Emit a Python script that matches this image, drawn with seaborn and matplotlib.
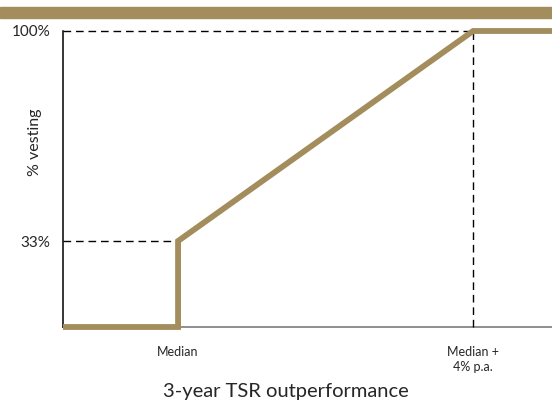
import numpy as np
import pandas as pd
import matplotlib
matplotlib.use("Agg")
import matplotlib.pyplot as plt
import seaborn as sns
from matplotlib.patches import Rectangle

# ---- data ----
perf_x = [-1.56, 0.0, 0.0, 4.0, 5.07]      # TSR outperformance (% p.a. above median)
vesting = [0, 0, 33, 100, 100]              # % vesting
tick_pos = [0, 4]
tick_labels = ["Median", "Median +\n4% p.a."]
ytick_pos = [33, 100]
ytick_labels = ["33%", "100%"]

GOLD = "#a38d5d"

sns.set_theme(style="white")
plt.rcParams["font.family"] = ["Lato", "DejaVu Sans"]

fig = plt.figure(figsize=(5.52, 4.03), dpi=100)
ax = fig.add_axes([63 / 552, 76 / 403, 1 - 63 / 552, 296 / 403])

# piecewise scale so 33% sits where it does in the schematic
def fwd(y):
    return np.interp(y, [0, 33, 100], [0, 29.05, 100])

def inv(y):
    return np.interp(y, [0, 29.05, 100], [0, 33, 100])

ax.set_yscale("function", functions=(fwd, inv))

df = pd.DataFrame({"x": perf_x, "y": vesting})

DASH = (0, (5.5, 3.5))
# dashed guides
ax.plot([perf_x[0], 4], [100, 100], color="black", lw=1.0, ls=DASH, zorder=2, clip_on=False)
ax.plot([perf_x[0], 0], [33, 33], color="black", lw=1.0, ls=DASH, zorder=2)
ax.plot([4, 4], [0, 100], color="black", lw=1.0, ls=DASH, zorder=2)

sns.lineplot(data=df, x="x", y="y", estimator=None, sort=False, color=GOLD,
             lw=4.2, ax=ax, zorder=3, clip_on=False)
for ln in ax.get_lines():
    ln.set_clip_on(False)
gold = ax.get_lines()[-1]
gold.set_solid_joinstyle("miter")
gold.set_solid_capstyle("butt")

ax.set_xlim(perf_x[0], perf_x[-1])
ax.set_ylim(0, 100)

ax.set_xticks(tick_pos)
ax.set_xticklabels(tick_labels, fontsize=9, linespacing=1.3)
ax.set_yticks(ytick_pos)
ax.set_yticklabels(ytick_labels, fontsize=11)
ax.tick_params(axis="x", length=0, pad=14)
ax.tick_params(axis="y", length=0, pad=9)

ax.set_xlabel("")
ax.set_ylabel("% vesting", fontsize=11.5)
ax.yaxis.set_label_coords(-0.043, 0.625)

for s in ["top", "right"]:
    ax.spines[s].set_visible(False)
ax.spines["left"].set_color("black")
ax.spines["left"].set_linewidth(1.1)
ax.spines["bottom"].set_color("#707070")
ax.spines["bottom"].set_linewidth(1.1)
ax.spines["bottom"].set_zorder(1)

fig.text(286 / 552, (403 - 392) / 403, "3-year TSR outperformance",
         ha="center", va="center", fontsize=14.5)

# top band
fig.patches.append(Rectangle((0, (403 - 18) / 403), 1, 11 / 403,
                             transform=fig.transFigure, color=GOLD, zorder=0))

fig.savefig("out.png", dpi=100)
